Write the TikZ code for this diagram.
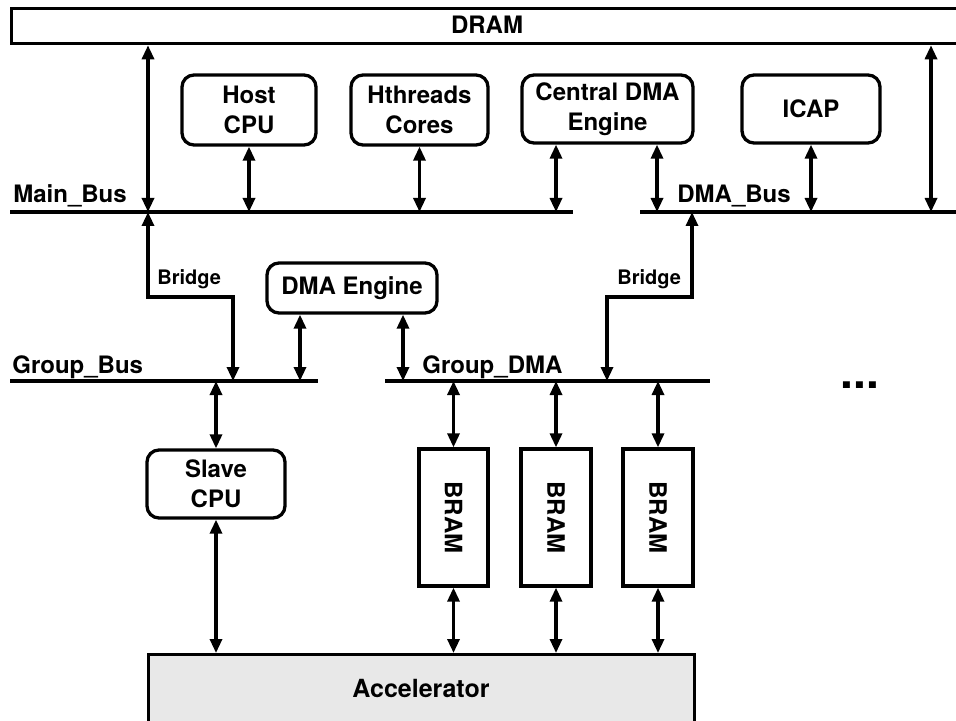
\documentclass[tikz,border=0pt]{standalone}
\usepackage{fontspec}
\setmainfont{TeX Gyre Heros}
\usetikzlibrary{arrows.meta}
\definecolor{accfill}{HTML}{E8E8E8}
\tikzset{
  thick line/.style={line width=1.65pt},
  rbox/.style={draw,line width=1.65pt,rounded corners=6pt,inner sep=0pt,align=center,
    font=\fontsize{12}{15}\selectfont\bfseries},
  sbox/.style={draw,line width=1.65pt,inner sep=0pt,align=center,
    font=\fontsize{12}{15}\selectfont\bfseries},
  dbl/.style={line width=1.6pt,{Triangle[length=7pt,width=6pt]}-{Triangle[length=7pt,width=6pt]}},
  buslbl/.style={font=\fontsize{12}{15}\selectfont\bfseries,inner sep=0pt,anchor=base west},
  brlbl/.style={font=\fontsize{10}{12}\selectfont\bfseries,inner sep=0pt,anchor=base west},
}
\begin{document}
\begin{tikzpicture}[x=0.5pt,y=-0.5pt]
\useasboundingbox (0,0) rectangle (956,721);

% DRAM
\node[sbox,minimum width=474pt,minimum height=17.5pt,anchor=north west] (dram) at (10,7) {};
\node[font=\fontsize{12}{15}\selectfont\bfseries,inner sep=0pt] (dramt) at (487,25) {DRAM};

% top boxes
\node[rbox,minimum width=67pt,minimum height=35pt] (host) at (249,110) {Host\\CPU};
\node[rbox,minimum width=68.5pt,minimum height=35pt] (hth) at (419.5,110) {Hthreads\\Cores};
\node[rbox,minimum width=85.5pt,minimum height=34pt] (cdma) at (607.5,109) {Central DMA\\Engine};
\node[rbox,minimum width=69pt,minimum height=34pt] (icap) at (811,109) {ICAP};

% buses
\coordinate (mbL) at (10,212);
\coordinate (mbR) at (573,212);
\coordinate (dbL) at (640,212);
\coordinate (dbR) at (956,212);
\coordinate (gbL) at (10,381);
\coordinate (gbR) at (318,381);
\coordinate (gdL) at (385,381);
\coordinate (gdR) at (710,381);
\draw[thick line] (mbL) -- (mbR);
\draw[thick line] (dbL) -- (dbR);
\draw[thick line] (gbL) -- (gbR);
\draw[thick line] (gdL) -- (gdR);

\node[buslbl] (mbt) at (13,203) {Main\_Bus};
\node[buslbl] (dbt) at (677,203) {DMA\_Bus};
\node[buslbl] (gbt) at (12,373) {Group\_Bus};
\node[buslbl] (gdt) at (422,373) {Group\_DMA};

% DRAM links
\coordinate (lx) at (148,212);
\coordinate (rx) at (931,212);
\draw[dbl] (lx |- dram.south) -- (lx);
\draw[dbl] (rx |- dram.south) -- (rx);

% top box links
\draw[dbl] (host.south) -- (host.south |- mbL);
\draw[dbl] (hth.south) -- (hth.south |- mbL);
\draw[dbl] ([xshift=-25.75pt]cdma.south) -- ([xshift=-25.75pt]cdma.south |- mbL);
\draw[dbl] ([xshift=24.75pt]cdma.south) -- ([xshift=24.75pt]cdma.south |- dbL);
\draw[dbl] (icap.south) -- (icap.south |- dbL);

% DMA engine
\node[rbox,minimum width=85pt,minimum height=25pt] (dmae) at (352,288) {DMA Engine};
\draw[dbl] ([xshift=-26pt]dmae.south) -- ([xshift=-26pt]dmae.south |- gbL);
\draw[dbl] ([xshift=25.5pt]dmae.south) -- ([xshift=25.5pt]dmae.south |- gdL);

% bridges
\coordinate (lk) at (233,297);
\coordinate (rb) at (692,212);
\coordinate (rk) at (607,297);
\draw[dbl] (lx) |- (lk) -- (lk |- gbL);
\draw[dbl] (rb) |- (rk) -- (rk |- gdL);
\node[brlbl] (brl) at (157,285) {Bridge};
\node[brlbl] (brr) at (617,285) {Bridge};

% accelerator
\node[sbox,fill=accfill,minimum width=273pt,minimum height=35pt,anchor=north west] (acc) at (147,653) {};
\node[font=\fontsize{12.5}{15}\selectfont\bfseries,inner sep=0pt] (acct) at (421,688) {Accelerator};

% slave CPU
\node[rbox,minimum width=69pt,minimum height=34pt] (slave) at (216,484) {Slave\\CPU};
\draw[dbl] (slave.north |- gbL) -- (slave.north);
\draw[dbl] (slave.south) -- (slave.south |- acc.north);

% BRAMs
\node[sbox,minimum width=34.5pt,minimum height=68.5pt] (b1) at (453.5,517.5) {\rotatebox{-90}{BRAM}};
\node[sbox,minimum width=35pt,minimum height=68.5pt] (b2) at (556,517.5) {\rotatebox{-90}{BRAM}};
\node[sbox,minimum width=35pt,minimum height=68.5pt] (b3) at (658,517.5) {\rotatebox{-90}{BRAM}};
\foreach \b in {b1,b2,b3}{
  \draw[dbl] (\b.north |- gdL) -- (\b.north);
  \draw[dbl] (\b.south) -- (\b.south |- acc.north);
}

% dots
\node[font=\fontsize{23}{23}\selectfont\bfseries,inner sep=0pt,anchor=base] (dots) at (860,388) {...};
\end{tikzpicture}
\end{document}
